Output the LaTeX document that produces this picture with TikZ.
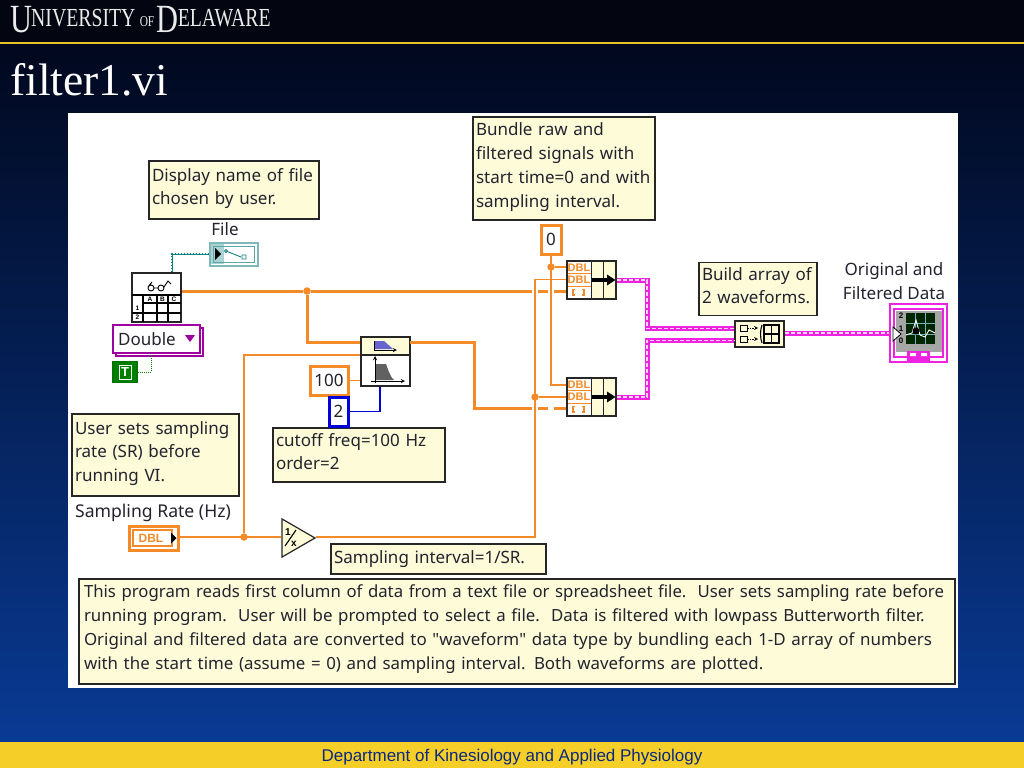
\documentclass[tikz,border=0pt]{standalone}
\usepackage{fontspec}
\setmainfont{Noto Sans}
\newfontfamily\plainq{Noto Sans}
\newfontfamily\serifhead{Liberation Serif}
\newfontfamily\headfont[FakeStretch=0.76]{Liberation Serif}
\newfontfamily\footfont{Liberation Sans}
\usetikzlibrary{shapes.geometric}
\definecolor{wireor}{HTML}{F58A28}
\definecolor{notefill}{HTML}{FDFBD8}
\definecolor{ink}{HTML}{23232F}
\definecolor{pinkw}{HTML}{EE22E0}
\definecolor{tealw}{HTML}{138080}
\definecolor{bgbot}{RGB}{9,58,148}
\definecolor{bgtop}{RGB}{1,8,30}
\definecolor{headc}{RGB}{3,6,16}
\definecolor{goldl}{RGB}{235,195,40}
\definecolor{goldf}{RGB}{246,206,40}
\definecolor{footc}{RGB}{10,40,130}
\newcommand{\notefont}{\fontsize{17}{23.7}\selectfont\color{ink}}
\newcommand{\bignotefont}{\fontsize{16.75}{24}\selectfont\color{ink}\hyphenpenalty=10000 }
\newcommand{\lift}{\rule[-7pt]{0pt}{7pt}}
\newcommand{\iconbold}[1]{\footfont\bfseries\fontsize{#1}{#1}\selectfont}
\tikzset{
 x=1pt,y=-1pt,
 note/.style={draw=black!85,line width=1.4pt,fill=notefill,inner xsep=3pt,inner ysep=2pt,align=left,font=\notefont},
 lbl/.style={font=\notefont,align=center,inner sep=0pt},
 icon/.style={draw=black!85,line width=1.2pt,fill=white,inner sep=0pt},
 thick wire/.style={draw=wireor,line width=3pt},
 thin wire/.style={draw=wireor,line width=1.6pt},
 junc/.style={circle,fill=wireor,inner sep=0pt,minimum size=7.5pt},
 pwire/.style={draw=pinkw,line width=5pt},
 pdash/.style={draw=white!80!pinkw,line width=1.6pt,dash pattern=on 4pt off 2pt},
 const/.style={draw=wireor,line width=3pt,fill=white,inner sep=0pt,font=\notefont},
 pics/bundleicon/.style={code={
   \fill[notefill] (0,0) rectangle (49,38);
   \fill[white] (0,0) rectangle (24,38);
   \draw[black!85,line width=1pt] (24,0)--(24,38) (36,0)--(36,38);
   \draw[wireor,line width=.9pt] (0,12.5)--(24,12.5) (0,25)--(24,25);
   \node[inner sep=0pt,text=wireor,font=\iconbold{11}] at (12,6.5) {DBL};
   \node[inner sep=0pt,text=wireor,font=\iconbold{11}] at (12,19) {DBL};
   \draw[wireor,line width=1.4pt] (8,28.5)--(6,28.5)--(6,34)--(8,34) (15,28.5)--(17,28.5)--(17,34)--(15,34);
   \draw[black,line width=3.6pt] (25,19)--(42,19);
   \fill[black] (40,13.5)--(48.5,19)--(40,24.5)--cycle;
   \draw[black!85,line width=1.2pt] (0,0) rectangle (49,38);
 }},
}
\begin{document}
\begin{tikzpicture}
\useasboundingbox (0,0) rectangle (1024,768);
% slide background
\fill[headc] (0,0) rectangle (1024,42);
\shade[top color=bgtop,bottom color=bgbot] (0,44) rectangle (1024,742);
\fill[goldl] (0,42) rectangle (1024,44.5);
\fill[goldf] (0,742) rectangle (1024,768);
\node[inner sep=0pt,text=footc] (foot) at (512,757) {\footfont\fontsize{17}{18}\selectfont Department of Kinesiology and Applied Physiology};
\node[anchor=base west,inner sep=0pt,text=white!92!black] (uni) at (10,27) {\headfont\fontsize{40}{40}\selectfont\raisebox{-6pt}{U}\kern-1pt\fontsize{26}{40}\selectfont NIVERSITY\,\fontsize{15}{40}\selectfont OF\,\fontsize{40}{40}\selectfont\raisebox{-6pt}{D}\kern-1pt\fontsize{26}{40}\selectfont ELAWARE};
\node[anchor=base west,inner sep=0pt,text=white] (title) at (10,95.5) {\serifhead\fontsize{45.5}{50}\selectfont filter1.vi};
% panel
\fill[white] (68,113) rectangle (958,688);

% comments
\node[note,minimum width=170pt,minimum height=58pt,text width=164pt] (cDisp) at (234,190) {Display name of file\\chosen by user.\lift};
\node[note,minimum width=182pt,minimum height=103pt,text width=176pt] (cBund) at (564,168.5) {Bundle raw and\\filtered signals with\\start time=0 and with\\sampling interval.\lift};
\node[note,minimum width=118pt,minimum height=53pt,text width=112pt] (cBuild) at (758,289) {Build array of\\2 waveforms.\lift};
\node[note,minimum width=167pt,minimum height=82pt,text width=161pt] (cUser) at (155.5,455) {User sets sampling\\rate (SR) before\\running VI.\lift};
\node[note,minimum width=172pt,minimum height=54pt,text width=166pt] (cCut) at (359,455) {cutoff freq=100 Hz\\order=2\lift};
\node[note,minimum width=215pt,minimum height=30pt,text width=209pt] (cInt) at (438.5,559) {Sampling interval=1/SR.};
\node[note,font=\bignotefont,minimum width=876pt,minimum height=105pt,text width=866pt,inner xsep=5pt,inner ysep=0pt] (cBig) at (517,631.5) {This program reads first column of data from a text file or spreadsheet file.\ \ User sets sampling rate before\\\scalebox{1.007}[1]{running program.\ \ User will be prompted to select a file.\ \ Data is filtered with lowpass Butterworth filter.}\\\scalebox{1.012}[1]{Original and filtered data are converted to {\plainq\char34}waveform{\plainq\char34} data type by bundling each 1-D array of numbers}\\\scalebox{1.007}[1]{with the start time (assume = 0) and sampling interval. Both waveforms are plotted.}\rule[-8pt]{0pt}{8pt}};

% labels
\node[lbl] (lFile) at (225,229) {File};
\node[lbl,font=\fontsize{17.6}{20}\selectfont\color{ink}] (lRate) at (153,513) {Sampling Rate (Hz)};
\node[lbl] (lOrig) at (894,281) {Original and\\Filtered Data};

% functions, constants and terminals
\node[icon,minimum width=49pt,minimum height=49pt] (read) at (156.5,297.5) {};
\node[icon,minimum width=49pt,minimum height=49pt] (filter) at (385.5,361.5) {};
\node[draw=wireor,line width=3pt,fill=white,inner sep=0pt,minimum width=49pt,minimum height=24pt] (rate) at (153.5,538) {};
\node[icon,isosceles triangle,isosceles triangle apex angle=60,minimum height=33pt,minimum width=33pt,fill=notefill,draw=black!85,line width=1.2pt] (inv) at (293,538) {};
\node[const,minimum width=38pt,minimum height=29pt] (c100) at (329,380.5) {100};
\node[const,draw=blue!85!black,minimum width=19pt,minimum height=29pt] (c2) at (338.5,411.5) {2};
\node[const,minimum width=20pt,minimum height=29pt] (c0) at (551,239.5) {0};
\node[icon,minimum width=49pt,minimum height=38pt] (bunA) at (591.5,280) {};
\node[icon,minimum width=49pt,minimum height=38pt] (bunB) at (591.5,397) {};
\node[icon,fill=notefill,minimum width=49pt,minimum height=26pt] (build) at (759.5,334) {};
\node[draw=pinkw,line width=1.4pt,fill=white,inner sep=0pt,minimum width=57pt,minimum height=58pt] (graph) at (918.5,333) {};
\node[draw=tealw!55!white,line width=2pt,fill=white,inner sep=0pt,minimum width=48pt,minimum height=23pt] (file) at (234,254) {};
\node[draw=violet!75!magenta,line width=1.4pt,fill=white,inner sep=0pt,minimum width=87pt,minimum height=28pt] (dblB) at (159.5,342) {};
\node[draw=violet!75!magenta,line width=1.4pt,fill=white,inner sep=0pt,minimum width=87pt,minimum height=28pt,font=\notefont] (dbl) at (156.5,339) {};
\node[inner sep=0pt,font=\notefont,anchor=west] (dblT) at (118,339) {Double};
\node[draw=green!45!black,line width=1.5pt,fill=green!50!black,inner sep=0pt,minimum width=24pt,minimum height=21pt,text=white,font=\iconbold{13}] (tt) at (125,372) {T};

% wires
\node[junc] (jA) at (307,291) {};
\node[junc] (jB) at (244,537) {};
\node[junc] (jC) at (535,397) {};
\node[junc] (jD) at (551,267) {};
\coordinate (fOut) at (410,342);
\coordinate (bThird) at (567,408.5);
\coordinate (bElbow) at (474,342);
\draw[thick wire] (read.east |- jA) -- (jA) -- (bunA.west |- jA);
\draw[thick wire] (jA) |- ([yshift=19.5pt]filter.west);
\draw[thick wire] (fOut) -- (bElbow) |- (bThird);
% gaps where thin wires pass over thick ones
\foreach \xx in {535,551}{
 \draw[white,line width=6pt] (\xx,286) -- (\xx,296);
 \draw[white,line width=6pt] (\xx,403) -- (\xx,414);
}
\coordinate (iOut) at (535,537);
\draw[thin wire] (rate.east |- jB) -- (inv.west |- jB);
\draw[thin wire] (jB) |- ([yshift=6.5pt]filter.west);
\draw[thin wire] (inv.apex |- jB) -- (iOut) |- ([yshift=0.5pt]bunA.west);
\draw[thin wire] (jC) -- (bunB.west |- jC);
\draw[thin wire] (c0.south) |- ([yshift=12pt]bunB.west);
\draw[thin wire] (jD) -- (bunA.west |- jD);
\draw[thin wire] (c100.east) -- (filter.west |- c100.east);
\draw[draw=blue!85!black,line width=1.4pt] (c2.east) -| (380,386.5);
\draw[densely dotted,draw=green!50!black,line width=1pt] (tt.east) -| (151,355);
\coordinate (tCorner) at (172,254);
\draw[draw=tealw,line width=.9pt] (read.north -| tCorner) -- (tCorner) -- (file.west);
\draw[draw=tealw,line width=2pt,dash pattern=on 1.5pt off 1.5pt] (read.north -| tCorner) -- (tCorner) -- (file.west);
\coordinate (pA) at (647,280);
\coordinate (pB) at (647,397);
\foreach \st in {pwire,pdash}{
 \draw[\st] (bunA.east) -- (pA) |- ([yshift=5.5pt]build.west);
 \draw[\st] (bunB.east) -- (pB) |- ([yshift=-6.5pt]build.west);
 \draw[\st] ([yshift=1pt]build.east) -- (graph.west);
}

% icon details: read file
\draw[black,line width=.9pt] (151,288) circle (3) (161,288) circle (3) (154,288)--(158,288) (148,287)--(152,282) (164,287)--(168,281)--(171,284);
\draw[black,line width=1.1pt] (132,295)--(181,295) (143,295)--(143,322) (157,295)--(157,322) (168,295)--(168,322) (143,303)--(181,303) (132,313)--(181,313);
\node[inner sep=0pt,font=\iconbold{6.5}] (rA) at (150,299) {A};
\node[inner sep=0pt,font=\iconbold{6.5}] (rB) at (162.5,299) {B};
\node[inner sep=0pt,font=\iconbold{6.5}] (rC) at (174,299) {C};
\node[inner sep=0pt,font=\iconbold{6.5}] (r1) at (137.5,308) {1};
\node[inner sep=0pt,font=\iconbold{6.5}] (r2) at (137.5,317) {2};

% filter
\fill[notefill] (362,338) rectangle (409,354);
\draw[black!85,line width=1.2pt] (361,355)--(410,355);
\fill[blue!50!gray!80!white] (374,341)--(384,341)--(393,349)--(374,349)--cycle;
\draw[black,line width=.9pt,-stealth] (374,341)--(374,350)--(397,350);
\fill[black!62] (376,364)--(386,364) .. controls (389,372) and (391,378) .. (394,380) -- (376,380)--cycle;
\draw[black,line width=.9pt,-stealth] (375,383)--(375,356);
\draw[black,line width=.9pt,-stealth] (371,381)--(405,381);

% rate terminal
\draw[wireor,line width=1.5pt] (133,530) rectangle (172,546);
\node[inner sep=0pt,text=wireor,font=\iconbold{12}] (rDbl) at (151,538) {DBL};
\fill[black] (171,532.5)--(176.5,538)--(171,543.5)--cycle;

% 1/x
\node[inner sep=0pt,font=\iconbold{10}] (inv1) at (288,532) {1};
\node[inner sep=0pt,font=\iconbold{10}] (invx) at (294,544) {x};
\draw[black,line width=1.1pt] (285,546)--(296,530);

% file terminal
\fill[tealw!35!white] (211,244) rectangle (224,264);
\draw[tealw!70!white,line width=1pt] (213,246) rectangle (254,262);
\fill[black] (215,248)--(221,254)--(215,260)--cycle;
\draw[tealw,line width=.9pt] (226,251)--(241,257);
\draw[tealw,line width=.9pt,fill=white] (226,251) circle (1.6) (242,255) rectangle (246,259);

% double ring arrow
\fill[violet!75!magenta] (185,335)--(195,335)--(190,342)--cycle;

% T
\draw[white,line width=1pt] (119,365) rectangle (131,379);

% bundles
\pic at (567,261) {bundleicon};
\pic at (567,378) {bundleicon};

% build array
\draw[black,line width=1pt] (740,325) rectangle (747,331) (740,336) rectangle (747,342);
\draw[black,densely dotted,line width=.8pt,-stealth] (748,328)--(758,328);
\draw[black,densely dotted,line width=.8pt,-stealth] (748,339)--(758,339);
\draw[black,line width=1.1pt] (762,325) .. controls (760,330) and (760,338) .. (762,343);
\draw[black,line width=1.1pt] (764,325) rectangle (779,343) (771.5,325)--(771.5,343) (764,334)--(779,334);

% graph
\draw[pinkw,line width=1.2pt] (894,309) rectangle (943,357);
\fill[black!35] (895.5,310.5) rectangle (941.5,352);
\fill[black!85!green] (906,313) rectangle (935,344);
\draw[tealw!60!white,line width=.5pt] (906,323)--(935,323) (906,334)--(935,334) (915,313)--(915,344) (925,313)--(925,344);
\draw[white,line width=.9pt] (906,335)--(912,333)--(916,320)--(920,335)--(925,337)--(929,330)--(935,333);
\fill[black] (916,331) circle (3.5);
\node[inner sep=0pt,font=\iconbold{8}] (g2) at (901,316) {2};
\node[inner sep=0pt,font=\iconbold{8}] (g1) at (901,329) {1};
\node[inner sep=0pt,font=\iconbold{8}] (g0) at (901,341) {0};
\fill[pinkw] (907,351) rectangle (930,362);
\fill[white] (910,353) rectangle (916,356) (921,353) rectangle (927,356);
\fill[white] (893,327)--(901,334)--(893,341)--cycle;
\draw[black,line width=.8pt] (893,327)--(901,334)--(893,341)--cycle;
\end{tikzpicture}
\end{document}
